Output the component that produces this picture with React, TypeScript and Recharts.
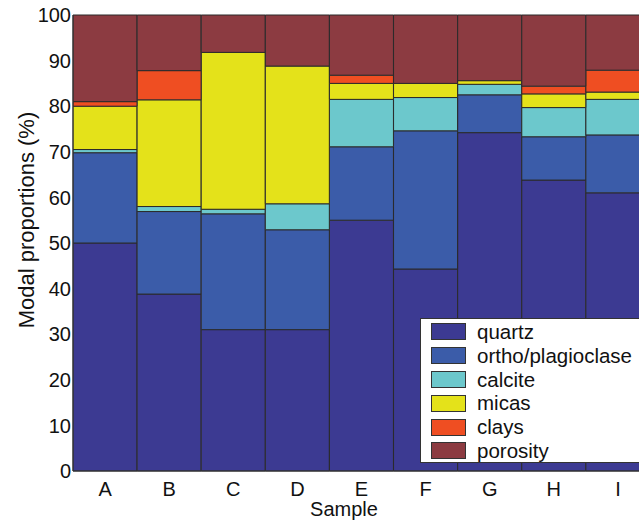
import React from 'react';
import { BarChart, Bar, XAxis, YAxis, Legend } from 'recharts';

const samples = ['A', 'B', 'C', 'D', 'E', 'F', 'G', 'H', 'I'];
const quartz = [50, 38.8, 31, 31, 55, 44.3, 74.2, 63.8, 61];
const ortho = [19.8, 18.1, 25.4, 21.9, 16.1, 30.3, 8.3, 9.5, 12.7];
const calcite = [0.7, 1.1, 1.0, 5.7, 10.4, 7.3, 2.3, 6.4, 7.8];
const micas = [9.5, 23.4, 34.4, 30.2, 3.5, 3.1, 0.8, 3.0, 1.6];
const clays = [1.0, 6.4, 0, 0, 1.8, 0, 0, 1.7, 4.8];
const porosity = [19.0, 12.2, 8.2, 11.2, 13.2, 15.0, 14.4, 15.6, 12.1];
const yTicks = [0, 10, 20, 30, 40, 50, 60, 70, 80, 90, 100];

const series = [
  { key: 'quartz', name: 'quartz', color: '#3c3a92' },
  { key: 'ortho', name: 'ortho/plagioclase', color: '#3b5ca9' },
  { key: 'calcite', name: 'calcite', color: '#6cc8cc' },
  { key: 'micas', name: 'micas', color: '#e4e21a' },
  { key: 'clays', name: 'clays', color: '#ef4e22' },
  { key: 'porosity', name: 'porosity', color: '#8c3b41' },
];

const data = samples.map((s, i) => ({
  sample: s,
  quartz: quartz[i],
  ortho: ortho[i],
  calcite: calcite[i],
  micas: micas[i],
  clays: clays[i],
  porosity: porosity[i],
}));

const font = '"Liberation Sans", Arial, sans-serif';

// legend keeps the series order (bottom of stack first), like the original
const renderLegend = () => (
  <div
    style={{
      width: 240,
      height: 145,
      boxSizing: 'border-box',
      border: '1px solid #333',
      background: '#fff',
      paddingTop: 1,
      fontFamily: font,
      fontSize: 20.5,
      color: '#111',
    }}
  >
    {series.map((s) => (
      <div key={s.key} style={{ display: 'flex', alignItems: 'center', height: 23.8 }}>
        <span
          style={{
            display: 'inline-block',
            width: 35,
            height: 17,
            marginLeft: 10,
            marginRight: 11,
            boxSizing: 'border-box',
            border: '1px solid #333',
            background: s.color,
          }}
        />
        <span>{s.name}</span>
      </div>
    ))}
  </div>
);

const YLabel = () => (
  <text
    x={34}
    y={220}
    transform="rotate(-90, 34, 220)"
    textAnchor="middle"
    fontFamily={font}
    fontSize={22}
    fill="#111"
  >
    Modal proportions (%)
  </text>
);

const XLabel = () => (
  <text x={344} y={516} textAnchor="middle" fontFamily={font} fontSize={20} fill="#111">
    Sample
  </text>
);

export default function App() {
  return (
    <div
      style={{
        position: 'fixed',
        left: 0,
        top: 0,
        width: 639,
        height: 520,
        overflow: 'hidden',
        background: '#fff',
      }}
    >
      <BarChart
        width={660}
        height={520}
        data={data}
        barCategoryGap={0}
        margin={{ top: 15, right: 10, bottom: 0, left: 0 }}
      >
        <XAxis
          dataKey="sample"
          height={49}
          tickLine={false}
          tickSize={0}
          tickMargin={11}
          axisLine={{ stroke: '#333' }}
          tick={{ fontFamily: font, fontSize: 20, fill: '#111' }}
          label={<XLabel />}
        />
        <YAxis
          width={73}
          domain={[0, 100]}
          ticks={yTicks}
          interval={0}
          tickLine={false}
          tickSize={0}
          tickMargin={2}
          axisLine={{ stroke: '#333' }}
          tick={{ fontFamily: font, fontSize: 20, fill: '#111' }}
          label={<YLabel />}
        />
        {series.map((s) => (
          <Bar
            key={s.key}
            dataKey={s.key}
            name={s.name}
            stackId="a"
            fill={s.color}
            stroke="#2b2b2b"
            strokeWidth={1}
            isAnimationActive={false}
          />
        ))}
        <Legend
          layout="vertical"
          align="center"
          verticalAlign="middle"
          content={renderLegend}
          wrapperStyle={{ left: 420, top: 318, width: 240, height: 145 }}
        />
      </BarChart>
    </div>
  );
}
